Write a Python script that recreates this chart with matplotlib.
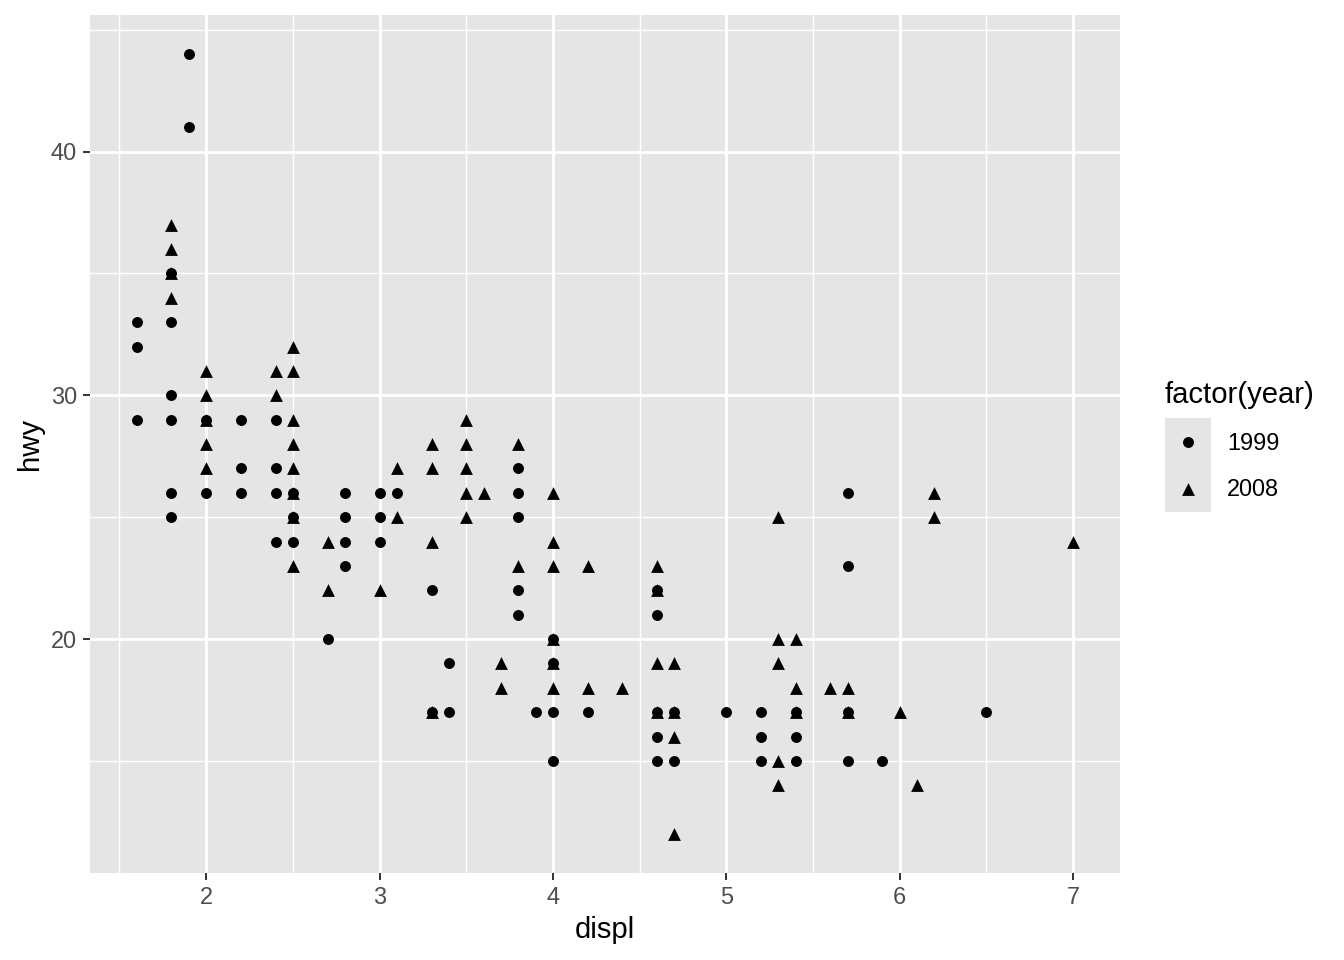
import matplotlib.pyplot as plt
from matplotlib.ticker import MultipleLocator

plt.rcParams['font.family'] = ['Liberation Sans', 'DejaVu Sans']

# displ / hwy values, split by model year
displ_1999 = [1.9, 1.9, 1.6, 1.6, 1.6, 1.8, 1.8, 1.8, 1.8, 1.8, 1.8,
              2.0, 2.0, 2.2, 2.2, 2.2, 2.4, 2.4, 2.4, 2.4, 2.5, 2.5, 2.5,
              2.7, 2.8, 2.8, 2.8, 2.8, 3.0, 3.0, 3.0, 3.1, 3.3, 3.3,
              3.4, 3.4, 3.8, 3.8, 3.8, 3.8, 3.8, 3.9, 4.0, 4.0, 4.0, 4.0,
              4.2, 4.6, 4.6, 4.6, 4.6, 4.6, 4.7, 4.7, 5.0, 5.2, 5.2, 5.2,
              5.4, 5.4, 5.4, 5.7, 5.7, 5.7, 5.7, 5.9, 6.5]
hwy_1999 = [44, 41, 33, 32, 29, 35, 33, 30, 29, 26, 25,
            29, 26, 29, 27, 26, 29, 27, 26, 24, 26, 25, 24,
            20, 26, 25, 24, 23, 26, 25, 24, 26, 22, 17,
            19, 17, 27, 26, 25, 22, 21, 17, 20, 19, 17, 15,
            17, 22, 21, 17, 16, 15, 17, 15, 17, 17, 16, 15,
            17, 16, 15, 26, 23, 17, 15, 15, 17]

displ_2008 = [1.8, 1.8, 1.8, 1.8, 2.0, 2.0, 2.0, 2.0, 2.0, 2.4, 2.4,
              2.5, 2.5, 2.5, 2.5, 2.5, 2.5, 2.5, 2.5, 2.7, 2.7, 3.0,
              3.1, 3.1, 3.3, 3.3, 3.3, 3.3, 3.5, 3.5, 3.5, 3.5, 3.5,
              3.6, 3.7, 3.7, 3.8, 3.8, 4.0, 4.0, 4.0, 4.0, 4.0, 4.0,
              4.2, 4.2, 4.4, 4.6, 4.6, 4.6, 4.6, 4.7, 4.7, 4.7, 4.7,
              5.3, 5.3, 5.3, 5.3, 5.3, 5.4, 5.4, 5.4, 5.6, 5.7, 5.7,
              6.0, 6.1, 6.2, 6.2, 7.0]
hwy_2008 = [37, 36, 35, 34, 31, 30, 29, 28, 27, 31, 30,
            32, 31, 29, 28, 27, 26, 25, 23, 24, 22, 22,
            27, 25, 28, 27, 24, 17, 29, 28, 27, 26, 25,
            26, 19, 18, 28, 23, 26, 24, 23, 20, 19, 18,
            23, 18, 18, 23, 22, 19, 17, 19, 17, 16, 12,
            25, 20, 19, 15, 14, 20, 18, 17, 18, 18, 17,
            17, 14, 26, 25, 24]

years = ['1999', '2008']

fig = plt.figure(figsize=(13.44, 9.6), dpi=100)
ax = fig.add_axes([90 / 1344, 1 - 873 / 960, 1030 / 1344, 858 / 960])
ax.set_facecolor('#E5E5E5')

ax.scatter(displ_1999, hwy_1999, marker='o', s=62, color='black', linewidths=0, zorder=3)
ax.scatter(displ_2008, hwy_2008, marker='^', s=85, color='black', linewidths=0, zorder=3)

xmin, xmax = 1.6, 7.0
ymin, ymax = 12, 44
ax.set_xlim(xmin - 0.05 * (xmax - xmin), xmax + 0.05 * (xmax - xmin))
ax.set_ylim(ymin - 0.05 * (ymax - ymin), ymax + 0.05 * (ymax - ymin))

ax.xaxis.set_major_locator(MultipleLocator(1))
ax.xaxis.set_minor_locator(MultipleLocator(0.5))
ax.yaxis.set_major_locator(MultipleLocator(10))
ax.yaxis.set_minor_locator(MultipleLocator(5))
ax.grid(which='major', color='white', linewidth=2.0, zorder=0)
ax.grid(which='minor', color='white', linewidth=1.0, zorder=0)
ax.set_axisbelow(True)
for s in ax.spines.values():
    s.set_visible(False)

ax.tick_params(which='major', length=5.3, width=1.4, color='#333333',
               labelcolor='#4D4D4D', labelsize=16.9, pad=4)
ax.tick_params(which='minor', length=0)

ax.set_xlabel('displ', fontsize=21.1, labelpad=5)
ax.set_ylabel('hwy', fontsize=21.1, labelpad=5)

# legend
fig.text(1165 / 1344, 1 - 395 / 960, 'factor(year)', fontsize=21.1, va='center', ha='left')
lax = fig.add_axes([1165 / 1344, 1 - 512 / 960, 46 / 1344, 94 / 960])
lax.set_facecolor('#E5E5E5')
lax.set_xlim(0, 1)
lax.set_ylim(0, 2)
lax.set_xticks([])
lax.set_yticks([])
for s in lax.spines.values():
    s.set_visible(False)
lax.scatter([0.5], [1.5], marker='o', s=62, color='black', linewidths=0)
lax.scatter([0.5], [0.5], marker='^', s=85, color='black', linewidths=0)
fig.text(1227 / 1344, 1 - 443 / 960, years[0], fontsize=16.9, va='center', ha='left')
fig.text(1227 / 1344, 1 - 490 / 960, years[1], fontsize=16.9, va='center', ha='left')

fig.savefig('out.png', dpi=100)
